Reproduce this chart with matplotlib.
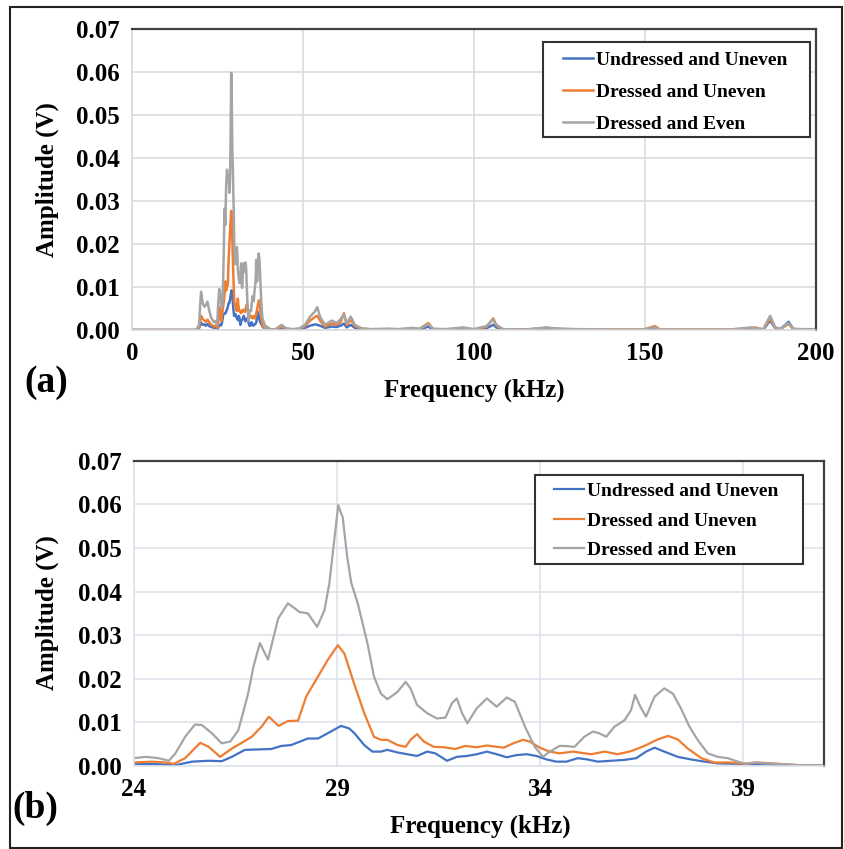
import numpy as np
import matplotlib
matplotlib.use('Agg')
import matplotlib.pyplot as plt
from matplotlib.patches import Rectangle
from matplotlib.ticker import FormatStrFormatter

plt.rcParams['font.family'] = 'Liberation Serif'
plt.rcParams['font.weight'] = 'bold'

labels = ['Undressed and Uneven', 'Dressed and Uneven', 'Dressed and Even']
colors = ['#4472C4', '#ED7D31', '#A5A5A5']

#%% zoomed band 24-41 kHz (panel b)
f_gray_b = [24.0, 24.29, 24.6, 24.86, 25.02, 25.26, 25.5, 25.67, 25.92, 26.16,
            26.37, 26.57, 26.81, 26.94, 27.1, 27.3, 27.55, 27.79, 28.08, 28.28,
            28.51, 28.69, 28.81, 28.95, 29.03, 29.14, 29.25, 29.35, 29.51, 29.75,
            29.91, 30.08, 30.24, 30.49, 30.69, 30.81, 30.97, 31.22, 31.46, 31.67,
            31.83, 31.95, 32.08, 32.21, 32.44, 32.69, 32.93, 33.18, 33.38, 33.63,
            33.87, 34.07, 34.24, 34.48, 34.6, 34.85, 35.09, 35.3, 35.46, 35.63,
            35.83, 36.08, 36.24, 36.34, 36.47, 36.61, 36.82, 37.06, 37.27, 37.47,
            37.68, 37.88, 38.13, 38.38, 38.62, 38.87, 39.07, 39.28, 39.53, 39.85,
            40.35, 40.92, 41.0]
gray_b = [0.0018, 0.0021, 0.0018, 0.0012, 0.0029, 0.0067, 0.0095, 0.0094, 0.0075, 0.0052,
          0.0056, 0.0082, 0.0166, 0.0227, 0.0282, 0.0244, 0.0338, 0.0373, 0.0353, 0.0350,
          0.0319, 0.0357, 0.0418, 0.0533, 0.0598, 0.0570, 0.0480, 0.0420, 0.0373, 0.0281,
          0.0205, 0.0166, 0.0153, 0.0170, 0.0193, 0.0178, 0.0140, 0.0121, 0.0109, 0.0111,
          0.0144, 0.0155, 0.0121, 0.0098, 0.0132, 0.0155, 0.0136, 0.0157, 0.0147, 0.0090,
          0.0044, 0.0021, 0.0033, 0.0046, 0.0046, 0.0044, 0.0067, 0.0079, 0.0075, 0.0067,
          0.0090, 0.0105, 0.0128, 0.0163, 0.0136, 0.0113, 0.0159, 0.0178, 0.0166, 0.0132,
          0.0090, 0.0060, 0.0029, 0.0021, 0.0018, 0.0010, 0.0005, 0.0008, 0.0006, 0.0005,
          0.0002, 0.0001, 0.0000]

f_orange_b = [24.0, 24.45, 24.77, 24.98, 25.26, 25.63, 25.84, 26.12, 26.41, 26.65,
              26.9, 27.14, 27.32, 27.56, 27.79, 28.04, 28.24, 28.53, 28.77, 29.02,
              29.18, 29.42, 29.67, 29.91, 30.08, 30.24, 30.49, 30.69, 30.81, 30.97,
              31.14, 31.38, 31.63, 31.91, 32.16, 32.44, 32.69, 33.1, 33.34, 33.58,
              33.75, 33.99, 34.24, 34.48, 34.81, 35.26, 35.59, 35.91, 36.24, 36.57,
              36.9, 37.15, 37.39, 37.64, 37.97, 38.29, 38.7, 39.03, 39.36, 39.85,
              40.35, 40.92, 41.0]
orange_b = [0.0008, 0.0010, 0.0008, 0.0005, 0.0018, 0.0053, 0.0044, 0.0021, 0.0040, 0.0053,
            0.0067, 0.0090, 0.0113, 0.0092, 0.0103, 0.0104, 0.0159, 0.0205, 0.0243, 0.0277,
            0.0258, 0.0189, 0.0121, 0.0067, 0.0060, 0.0060, 0.0048, 0.0044, 0.0060, 0.0073,
            0.0056, 0.0044, 0.0043, 0.0039, 0.0046, 0.0043, 0.0047, 0.0042, 0.0052, 0.0060,
            0.0056, 0.0042, 0.0033, 0.0029, 0.0033, 0.0027, 0.0033, 0.0027, 0.0034, 0.0046,
            0.0061, 0.0069, 0.0061, 0.0040, 0.0018, 0.0008, 0.0008, 0.0005, 0.0008, 0.0005,
            0.0002, 0.0000, 0.0000]

f_blue_b = [24.0, 24.6, 25.02, 25.43, 25.84, 26.16, 26.41, 26.73, 27.06, 27.38,
            27.63, 27.87, 28.28, 28.53, 28.77, 29.1, 29.3, 29.42, 29.67, 29.87,
            30.08, 30.24, 30.49, 30.73, 30.97, 31.22, 31.42, 31.71, 31.95, 32.2,
            32.44, 32.69, 32.93, 33.18, 33.42, 33.67, 33.91, 34.16, 34.4, 34.65,
            34.93, 35.17, 35.42, 35.75, 36.08, 36.37, 36.61, 36.82, 37.06, 37.39,
            37.72, 38.05, 38.38, 38.87, 39.53, 40.35, 40.92, 41.0]
blue_b = [0.0005, 0.0004, 0.0002, 0.0010, 0.0012, 0.0011, 0.0021, 0.0037, 0.0038, 0.0039,
          0.0046, 0.0048, 0.0063, 0.0063, 0.0075, 0.0092, 0.0086, 0.0076, 0.0048, 0.0033,
          0.0033, 0.0037, 0.0031, 0.0027, 0.0023, 0.0033, 0.0029, 0.0012, 0.0021, 0.0023,
          0.0027, 0.0033, 0.0027, 0.0020, 0.0025, 0.0027, 0.0023, 0.0015, 0.0010, 0.0010,
          0.0018, 0.0015, 0.0010, 0.0012, 0.0014, 0.0018, 0.0033, 0.0042, 0.0033, 0.0021,
          0.0015, 0.0010, 0.0006, 0.0005, 0.0004, 0.0002, 0.0001, 0.0000]

#%% rest of the spectrum (panel a only)
f_lo = [0, 18.8, 19.6, 20.2, 20.7, 21.2, 21.6, 22.1, 22.6, 23.2, 23.7]
gray_lo = [0, 0, 0.0012, 0.0089, 0.0062, 0.0054, 0.0058, 0.0066, 0.0045, 0.0028, 0.0022]
orange_lo = [0, 0, 0.0006, 0.0033, 0.0025, 0.0022, 0.0019, 0.0024, 0.0018, 0.0012, 0.0010]
blue_lo = [0, 0, 0.0004, 0.0017, 0.0012, 0.0013, 0.0010, 0.0014, 0.0009, 0.0007, 0.0006]

f_hi = [42, 43.8, 45, 47.2, 49, 50.6, 52.1, 53.5, 54.2, 55.0,
        56.5, 58.4, 59.9, 61.0, 62.0, 62.8, 64.0, 65.2, 67.2, 70,
        75, 78, 82, 84, 86.7, 88.1, 92, 96.9, 100, 103.7,
        105.7, 106.6, 108.6, 115, 121.3, 123.2, 126, 130, 140, 149.6,
        153, 154.5, 165, 175, 180.9, 182.3, 184.7, 186.7, 188.2, 189.6,
        192.1, 193.5, 196, 200]
gray_hi = [0.0002, 0.0012, 0.0004, 0.0002, 0.0004, 0.0012, 0.0031, 0.0043, 0.0053, 0.0031,
           0.0012, 0.0022, 0.0016, 0.0025, 0.0036, 0.0016, 0.0031, 0.0012, 0.0004, 0.0002,
           0.0003, 0.0002, 0.0005, 0.0003, 0.0013, 0.0003, 0.0002, 0.0006, 0.0002, 0.0009,
           0.0025, 0.0012, 0.0002, 0.0001, 0.0006, 0.0004, 0.0003, 0.0002, 0.0001, 0.0001,
           0.0006, 0.0001, 0.0001, 0.0001, 0.0006, 0.0004, 0.0002, 0.0033, 0.0006, 0.0003,
           0.0016, 0.0003, 0.0002, 0.0002]
orange_hi = [0.0001, 0.0008, 0.0003, 0.0001, 0.0003, 0.0009, 0.0022, 0.0030, 0.0033, 0.0022,
             0.0008, 0.0015, 0.0012, 0.0018, 0.0039, 0.0012, 0.0024, 0.0009, 0.0003, 0.0001,
             0.0002, 0.0001, 0.0004, 0.0002, 0.0016, 0.0002, 0.0001, 0.0005, 0.0001, 0.0007,
             0.0027, 0.0010, 0.0001, 0.0001, 0.0005, 0.0003, 0.0002, 0.0001, 0.0001, 0.0001,
             0.0009, 0.0001, 0.0001, 0.0001, 0.0004, 0.0006, 0.0001, 0.0027, 0.0005, 0.0002,
             0.0014, 0.0002, 0.0001, 0.0001]
blue_hi = [0.0001, 0.0004, 0.0002, 0.0001, 0.0002, 0.0005, 0.0010, 0.0013, 0.0012, 0.0010,
           0.0005, 0.0008, 0.0007, 0.0010, 0.0015, 0.0006, 0.0012, 0.0005, 0.0002, 0.0001,
           0.0001, 0.0001, 0.0002, 0.0001, 0.0008, 0.0001, 0.0001, 0.0003, 0.0001, 0.0004,
           0.0012, 0.0006, 0.0001, 0.0001, 0.0003, 0.0002, 0.0001, 0.0001, 0.0000, 0.0000,
           0.0004, 0.0000, 0.0000, 0.0000, 0.0003, 0.0003, 0.0001, 0.0022, 0.0004, 0.0001,
           0.0019, 0.0002, 0.0001, 0.0001]

y_ticks = [0.00, 0.01, 0.02, 0.03, 0.04, 0.05, 0.06, 0.07]
x_ticks_a = [0, 50, 100, 150, 200]
x_ticks_b = [24, 29, 34, 39]

#%% figure, laid out in pixels
W, H = 844, 849
fig = plt.figure(figsize=(W / 100., H / 100.), dpi=100)


def px_axes(l, t, r, b):
    return fig.add_axes([l / W, 1 - b / H, (r - l) / W, (b - t) / H])


def px_text(x, y, s, **kw):
    fig.text(x / W, 1 - y / H, s, ha='center', va='center', **kw)


def style(ax, gridcol):
    ax.set_ylim(0, 0.07)
    ax.set_yticks(y_ticks)
    ax.yaxis.set_major_formatter(FormatStrFormatter('%.2f'))
    ax.grid(True, color=gridcol, lw=1.1)
    ax.set_axisbelow(True)
    ax.tick_params(length=0, labelsize=18, pad=8.5)
    for s in ['top', 'right']:
        ax.spines[s].set_color('#404040')
        ax.spines[s].set_linewidth(1.6)
    for s in ['left', 'bottom']:
        ax.spines[s].set_color(gridcol)
        ax.spines[s].set_linewidth(1.1)


def add_legend(ax, lines, hx, hy, box, spacing):
    x0, y0, x1, y1 = box
    ax.add_patch(Rectangle((x0, y0), x1 - x0, y1 - y0, transform=ax.transAxes,
                           facecolor='white', edgecolor='#333333', lw=1.5, zorder=4))
    leg = ax.legend(lines, labels, loc='upper left', bbox_to_anchor=(hx, hy),
                    frameon=False, borderpad=0, borderaxespad=0, handlelength=1.55,
                    handletextpad=0.15, labelspacing=spacing,
                    prop={'size': 14, 'weight': 'bold', 'family': 'Liberation Serif'})
    leg.set_zorder(5)


# (a) full spectrum
ax_a = px_axes(132, 29, 815.6, 330)
style(ax_a, '#d9d9d9')
series_a = [(f_lo + f_blue_b + f_hi, blue_lo + blue_b + blue_hi),
            (f_lo + f_orange_b + f_hi, orange_lo + orange_b + orange_hi),
            (f_lo + f_gray_b + f_hi, gray_lo + gray_b + gray_hi)]
lines_a = []
for (x, y), c in zip(series_a, colors):
    l, = ax_a.plot(x, y, color=c, lw=1.8, zorder=2)
    lines_a.append(l)
ax_a.set_xlim(0, 200)
ax_a.set_xticks(x_ticks_a)
add_legend(ax_a, lines_a, 0.6305, 0.925, (0.601, 0.641, 0.992, 0.957), 0.73)

# (b) zoom on 24-41 kHz
ax_b = px_axes(134, 460.7, 824.3, 766)
style(ax_b, '#dce2ea')
series_b = [(f_blue_b, blue_b), (f_orange_b, orange_b), (f_gray_b, gray_b)]
lines_b = []
for (x, y), c in zip(series_b, colors):
    l, = ax_b.plot(x, y, color=c, lw=1.6, zorder=2)
    lines_b.append(l)
ax_b.set_xlim(24, 41)
ax_b.set_xticks(x_ticks_b)
add_legend(ax_b, lines_b, 0.608, 0.928, (0.581, 0.662, 0.969, 0.953), 0.6)

# axis titles and panel tags
px_text(47, 179.5, 'Amplitude (V)', fontsize=18, rotation=90)
px_text(474.5, 390, 'Frequency (kHz)', fontsize=18)
px_text(46, 382, '(a)', fontsize=27)
px_text(47, 613, 'Amplitude (V)', fontsize=18, rotation=90)
px_text(480, 826, 'Frequency (kHz)', fontsize=18)
px_text(35, 808, '(b)', fontsize=27)

# outer frame
fig.add_artist(Rectangle((10. / W, 1 - 848. / H), 832. / W, 841. / H,
                         transform=fig.transFigure, fill=False,
                         edgecolor='#222222', lw=1.5))

fig.savefig('out.png', dpi=100)
